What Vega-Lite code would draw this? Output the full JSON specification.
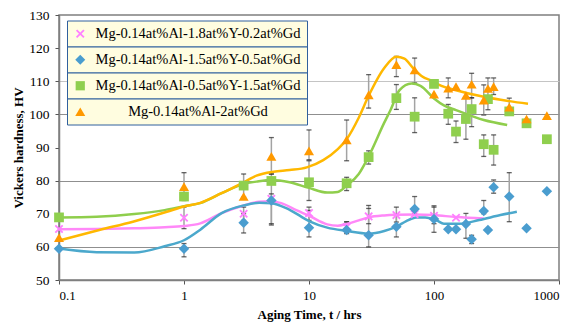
{
  "$schema": "https://vega.github.io/schema/vega-lite/v6.json",
  "autosize": {"type": "none"},
  "padding": {"left": 59, "top": 15, "right": 20, "bottom": 45},
  "width": 500,
  "height": 265,
  "background": "white",
  "config": {
    "view": {"stroke": "#7f7f7f", "strokeWidth": 1.5},
    "font": "Liberation Serif",
    "axis": {
      "labelFont": "Liberation Serif",
      "titleFont": "Liberation Serif",
      "labelColor": "#000",
      "titleColor": "#000",
      "domainColor": "#7f7f7f",
      "domainWidth": 1.5,
      "tickColor": "#555",
      "tickSize": 4
    },
    "legend": {
      "orient": "none",
      "title": null,
      "fillColor": "#fffde0",
      "strokeColor": "#30609e",
      "padding": 6,
      "labelFont": "Liberation Serif",
      "labelFontSize": 14.5,
      "labelColor": "#000",
      "labelOffset": 8,
      "labelLimit": 400,
      "symbolStrokeWidth": 0
    }
  },
  "datasets": {
    "pts": [
      {"s": "Mg-0.14at%Al-1.8at%Y-0.2at%Gd", "t": 0.1, "hv": 65.4},
      {"s": "Mg-0.14at%Al-1.8at%Y-0.2at%Gd", "t": 1, "hv": 68.8, "lo": 65.5, "hi": 72},
      {"s": "Mg-0.14at%Al-1.8at%Y-0.2at%Gd", "t": 3, "hv": 70, "lo": 68, "hi": 72},
      {"s": "Mg-0.14at%Al-1.8at%Y-0.2at%Gd", "t": 5, "hv": 74.5, "lo": 67, "hi": 76},
      {"s": "Mg-0.14at%Al-1.8at%Y-0.2at%Gd", "t": 10, "hv": 70.2, "lo": 68, "hi": 72},
      {"s": "Mg-0.14at%Al-1.8at%Y-0.2at%Gd", "t": 20, "hv": 66, "lo": 64.5, "hi": 67.5},
      {"s": "Mg-0.14at%Al-1.8at%Y-0.2at%Gd", "t": 30, "hv": 69.2, "lo": 67, "hi": 72.5},
      {"s": "Mg-0.14at%Al-1.8at%Y-0.2at%Gd", "t": 50, "hv": 69.6, "lo": 67.5, "hi": 72},
      {"s": "Mg-0.14at%Al-1.8at%Y-0.2at%Gd", "t": 70, "hv": 69.9},
      {"s": "Mg-0.14at%Al-1.8at%Y-0.2at%Gd", "t": 100, "hv": 69.4, "lo": 67, "hi": 72},
      {"s": "Mg-0.14at%Al-1.8at%Y-0.2at%Gd", "t": 150, "hv": 68.8},
      {"s": "Mg-0.14at%Al-1.5at%Y-0.5at%Gd", "t": 0.1, "hv": 59.4},
      {"s": "Mg-0.14at%Al-1.5at%Y-0.5at%Gd", "t": 1, "hv": 59.4, "lo": 57, "hi": 61},
      {"s": "Mg-0.14at%Al-1.5at%Y-0.5at%Gd", "t": 3, "hv": 67.3, "lo": 64.2, "hi": 70},
      {"s": "Mg-0.14at%Al-1.5at%Y-0.5at%Gd", "t": 5, "hv": 74},
      {"s": "Mg-0.14at%Al-1.5at%Y-0.5at%Gd", "t": 10, "hv": 65.8, "lo": 63, "hi": 71},
      {"s": "Mg-0.14at%Al-1.5at%Y-0.5at%Gd", "t": 20, "hv": 65.1, "lo": 64, "hi": 67.6},
      {"s": "Mg-0.14at%Al-1.5at%Y-0.5at%Gd", "t": 30, "hv": 63.5, "lo": 60, "hi": 71.6},
      {"s": "Mg-0.14at%Al-1.5at%Y-0.5at%Gd", "t": 50, "hv": 66.1, "lo": 63, "hi": 70},
      {"s": "Mg-0.14at%Al-1.5at%Y-0.5at%Gd", "t": 70, "hv": 71.4, "lo": 70, "hi": 75.2},
      {"s": "Mg-0.14at%Al-1.5at%Y-0.5at%Gd", "t": 100, "hv": 68.4, "lo": 64.4, "hi": 72.4},
      {"s": "Mg-0.14at%Al-1.5at%Y-0.5at%Gd", "t": 130, "hv": 65.3},
      {"s": "Mg-0.14at%Al-1.5at%Y-0.5at%Gd", "t": 150, "hv": 65.3},
      {"s": "Mg-0.14at%Al-1.5at%Y-0.5at%Gd", "t": 180, "hv": 66.9, "lo": 62.6, "hi": 70.1},
      {"s": "Mg-0.14at%Al-1.5at%Y-0.5at%Gd", "t": 200, "hv": 62.3, "lo": 61, "hi": 63.5},
      {"s": "Mg-0.14at%Al-1.5at%Y-0.5at%Gd", "t": 250, "hv": 70.8, "lo": 70, "hi": 74},
      {"s": "Mg-0.14at%Al-1.5at%Y-0.5at%Gd", "t": 270, "hv": 65.1},
      {"s": "Mg-0.14at%Al-1.5at%Y-0.5at%Gd", "t": 300, "hv": 78, "lo": 76.2, "hi": 80.2},
      {"s": "Mg-0.14at%Al-1.5at%Y-0.5at%Gd", "t": 400, "hv": 75.2, "lo": 67.6, "hi": 82.4},
      {"s": "Mg-0.14at%Al-1.5at%Y-0.5at%Gd", "t": 550, "hv": 65.6},
      {"s": "Mg-0.14at%Al-1.5at%Y-0.5at%Gd", "t": 800, "hv": 76.8},
      {"s": "Mg-0.14at%Al-0.5at%Y-1.5at%Gd", "t": 0.1, "hv": 68.9},
      {"s": "Mg-0.14at%Al-0.5at%Y-1.5at%Gd", "t": 1, "hv": 75.2},
      {"s": "Mg-0.14at%Al-0.5at%Y-1.5at%Gd", "t": 3, "hv": 78.5, "lo": 75, "hi": 82},
      {"s": "Mg-0.14at%Al-0.5at%Y-1.5at%Gd", "t": 5, "hv": 79.9, "lo": 66.6, "hi": 82},
      {"s": "Mg-0.14at%Al-0.5at%Y-1.5at%Gd", "t": 10, "hv": 79.5, "lo": 74, "hi": 86},
      {"s": "Mg-0.14at%Al-0.5at%Y-1.5at%Gd", "t": 20, "hv": 79.2, "lo": 77, "hi": 81},
      {"s": "Mg-0.14at%Al-0.5at%Y-1.5at%Gd", "t": 30, "hv": 87.1, "lo": 85, "hi": 89},
      {"s": "Mg-0.14at%Al-0.5at%Y-1.5at%Gd", "t": 50, "hv": 104.9, "lo": 101.5, "hi": 109},
      {"s": "Mg-0.14at%Al-0.5at%Y-1.5at%Gd", "t": 70, "hv": 99.3, "lo": 94.5, "hi": 105},
      {"s": "Mg-0.14at%Al-0.5at%Y-1.5at%Gd", "t": 100, "hv": 109.2},
      {"s": "Mg-0.14at%Al-0.5at%Y-1.5at%Gd", "t": 130, "hv": 100.2, "lo": 97, "hi": 103},
      {"s": "Mg-0.14at%Al-0.5at%Y-1.5at%Gd", "t": 150, "hv": 94.8, "lo": 91.5, "hi": 98},
      {"s": "Mg-0.14at%Al-0.5at%Y-1.5at%Gd", "t": 180, "hv": 98.6, "lo": 92.5, "hi": 105},
      {"s": "Mg-0.14at%Al-0.5at%Y-1.5at%Gd", "t": 200, "hv": 101.6, "lo": 96.3, "hi": 105},
      {"s": "Mg-0.14at%Al-0.5at%Y-1.5at%Gd", "t": 250, "hv": 91, "lo": 87.3, "hi": 93.8},
      {"s": "Mg-0.14at%Al-0.5at%Y-1.5at%Gd", "t": 270, "hv": 104.6},
      {"s": "Mg-0.14at%Al-0.5at%Y-1.5at%Gd", "t": 300, "hv": 89.3, "lo": 84.7, "hi": 93.8},
      {"s": "Mg-0.14at%Al-0.5at%Y-1.5at%Gd", "t": 400, "hv": 100.9},
      {"s": "Mg-0.14at%Al-0.5at%Y-1.5at%Gd", "t": 550, "hv": 97.3},
      {"s": "Mg-0.14at%Al-0.5at%Y-1.5at%Gd", "t": 800, "hv": 92.5},
      {"s": "Mg-0.14at%Al-2at%Gd", "t": 0.1, "hv": 62.8},
      {"s": "Mg-0.14at%Al-2at%Gd", "t": 1, "hv": 78.2, "lo": 74, "hi": 82.4},
      {"s": "Mg-0.14at%Al-2at%Gd", "t": 3, "hv": 75.2},
      {"s": "Mg-0.14at%Al-2at%Gd", "t": 5, "hv": 87.3, "lo": 82, "hi": 93},
      {"s": "Mg-0.14at%Al-2at%Gd", "t": 10, "hv": 89, "lo": 86.3, "hi": 95.3},
      {"s": "Mg-0.14at%Al-2at%Gd", "t": 20, "hv": 92.3, "lo": 86, "hi": 98.3},
      {"s": "Mg-0.14at%Al-2at%Gd", "t": 30, "hv": 105.9, "lo": 101.9, "hi": 112},
      {"s": "Mg-0.14at%Al-2at%Gd", "t": 50, "hv": 115, "lo": 111.4, "hi": 117.5},
      {"s": "Mg-0.14at%Al-2at%Gd", "t": 70, "hv": 113.4, "lo": 109.5, "hi": 117},
      {"s": "Mg-0.14at%Al-2at%Gd", "t": 100, "hv": 106.1},
      {"s": "Mg-0.14at%Al-2at%Gd", "t": 130, "hv": 107.9, "lo": 105, "hi": 111},
      {"s": "Mg-0.14at%Al-2at%Gd", "t": 150, "hv": 108.4},
      {"s": "Mg-0.14at%Al-2at%Gd", "t": 180, "hv": 105.7},
      {"s": "Mg-0.14at%Al-2at%Gd", "t": 200, "hv": 109.1, "lo": 105, "hi": 112.4},
      {"s": "Mg-0.14at%Al-2at%Gd", "t": 250, "hv": 104.3, "lo": 99.8, "hi": 108.9},
      {"s": "Mg-0.14at%Al-2at%Gd", "t": 270, "hv": 107.8, "lo": 101.4, "hi": 111},
      {"s": "Mg-0.14at%Al-2at%Gd", "t": 300, "hv": 108.4, "lo": 106, "hi": 111},
      {"s": "Mg-0.14at%Al-2at%Gd", "t": 400, "hv": 102.2, "lo": 99.8, "hi": 104.9},
      {"s": "Mg-0.14at%Al-2at%Gd", "t": 550, "hv": 98.6},
      {"s": "Mg-0.14at%Al-2at%Gd", "t": 800, "hv": 99.6}
    ],
    "curves": [
      {"s": "P", "t": 0.1, "hv": 65.3}, {"s": "P", "t": 0.2, "hv": 65.4}, {"s": "P", "t": 0.4, "hv": 65.6},
      {"s": "P", "t": 0.7, "hv": 65.9}, {"s": "P", "t": 1, "hv": 66.3}, {"s": "P", "t": 1.35, "hv": 67.1},
      {"s": "P", "t": 2, "hv": 70.2}, {"s": "P", "t": 3, "hv": 72.5}, {"s": "P", "t": 4, "hv": 73.6},
      {"s": "P", "t": 5, "hv": 73.8}, {"s": "P", "t": 6, "hv": 73.2}, {"s": "P", "t": 8, "hv": 71},
      {"s": "P", "t": 10, "hv": 69.4}, {"s": "P", "t": 14, "hv": 66.8}, {"s": "P", "t": 17, "hv": 66.4},
      {"s": "P", "t": 20, "hv": 66.9}, {"s": "P", "t": 25, "hv": 68}, {"s": "P", "t": 30, "hv": 68.9},
      {"s": "P", "t": 40, "hv": 69.5}, {"s": "P", "t": 50, "hv": 69.7}, {"s": "P", "t": 70, "hv": 69.8},
      {"s": "P", "t": 100, "hv": 69.6}, {"s": "P", "t": 150, "hv": 69}, {"s": "P", "t": 250, "hv": 68.6},
      {"s": "B", "t": 0.1, "hv": 59.5}, {"s": "B", "t": 0.2, "hv": 58.4}, {"s": "B", "t": 0.4, "hv": 58.3},
      {"s": "B", "t": 0.7, "hv": 60.2}, {"s": "B", "t": 1, "hv": 62}, {"s": "B", "t": 1.35, "hv": 65.2},
      {"s": "B", "t": 2, "hv": 70.2}, {"s": "B", "t": 3, "hv": 72.5}, {"s": "B", "t": 4, "hv": 73.3},
      {"s": "B", "t": 5, "hv": 73.2}, {"s": "B", "t": 7, "hv": 71.2}, {"s": "B", "t": 10, "hv": 67.8},
      {"s": "B", "t": 14, "hv": 65.8}, {"s": "B", "t": 20, "hv": 64.8}, {"s": "B", "t": 30, "hv": 64},
      {"s": "B", "t": 40, "hv": 64.8}, {"s": "B", "t": 50, "hv": 66.1}, {"s": "B", "t": 60, "hv": 67.8},
      {"s": "B", "t": 72, "hv": 68.9}, {"s": "B", "t": 85, "hv": 68.9}, {"s": "B", "t": 105, "hv": 68},
      {"s": "B", "t": 120, "hv": 67}, {"s": "B", "t": 160, "hv": 67}, {"s": "B", "t": 230, "hv": 68.1},
      {"s": "B", "t": 340, "hv": 69.6}, {"s": "B", "t": 460, "hv": 70.6},
      {"s": "G", "t": 0.1, "hv": 68.9}, {"s": "G", "t": 0.2, "hv": 69.1}, {"s": "G", "t": 0.4, "hv": 69.9},
      {"s": "G", "t": 0.7, "hv": 71.1}, {"s": "G", "t": 1, "hv": 72.3}, {"s": "G", "t": 1.35, "hv": 73.2},
      {"s": "G", "t": 2, "hv": 76.2}, {"s": "G", "t": 3, "hv": 79}, {"s": "G", "t": 3.8, "hv": 79.7},
      {"s": "G", "t": 5, "hv": 80.2}, {"s": "G", "t": 7, "hv": 79.5}, {"s": "G", "t": 10, "hv": 77.8},
      {"s": "G", "t": 14, "hv": 76.4}, {"s": "G", "t": 17, "hv": 76.6}, {"s": "G", "t": 20, "hv": 78.5},
      {"s": "G", "t": 25, "hv": 82}, {"s": "G", "t": 30, "hv": 87.3}, {"s": "G", "t": 40, "hv": 97.5},
      {"s": "G", "t": 45, "hv": 101.4}, {"s": "G", "t": 53, "hv": 107.3}, {"s": "G", "t": 66, "hv": 109.3},
      {"s": "G", "t": 78, "hv": 108.6}, {"s": "G", "t": 100, "hv": 104.8}, {"s": "G", "t": 120, "hv": 102.7},
      {"s": "G", "t": 150, "hv": 101.3}, {"s": "G", "t": 250, "hv": 98.3}, {"s": "G", "t": 385, "hv": 96.8},
      {"s": "O", "t": 0.1, "hv": 61.9}, {"s": "O", "t": 0.21, "hv": 65.1}, {"s": "O", "t": 0.39, "hv": 67.6},
      {"s": "O", "t": 0.73, "hv": 70.6}, {"s": "O", "t": 1, "hv": 72.2}, {"s": "O", "t": 1.35, "hv": 73.3},
      {"s": "O", "t": 2, "hv": 76.2}, {"s": "O", "t": 3, "hv": 79.5}, {"s": "O", "t": 3.8, "hv": 81.5},
      {"s": "O", "t": 5.2, "hv": 82.7}, {"s": "O", "t": 7, "hv": 83.2}, {"s": "O", "t": 9.6, "hv": 84},
      {"s": "O", "t": 13, "hv": 86.2}, {"s": "O", "t": 17, "hv": 89.5}, {"s": "O", "t": 20, "hv": 92.5},
      {"s": "O", "t": 25, "hv": 99}, {"s": "O", "t": 30, "hv": 105.6}, {"s": "O", "t": 40, "hv": 114},
      {"s": "O", "t": 50, "hv": 117.4}, {"s": "O", "t": 58, "hv": 116.8}, {"s": "O", "t": 68, "hv": 114},
      {"s": "O", "t": 80, "hv": 111.5}, {"s": "O", "t": 98, "hv": 110}, {"s": "O", "t": 110, "hv": 108.9},
      {"s": "O", "t": 150, "hv": 107.3}, {"s": "O", "t": 250, "hv": 105.3}, {"s": "O", "t": 400, "hv": 104},
      {"s": "O", "t": 565, "hv": 103.2}
    ]
  },
  "encoding": {
    "x": {
      "field": "t", "type": "quantitative",
      "scale": {"type": "log", "domain": [0.1, 1000]},
      "axis": {
        "title": "Aging Time, t / hrs",
        "values": [0.1, 1, 10, 100, 1000],
        "format": "~g",
        "grid": false,
        "labelFontSize": 13,
        "labelPadding": 5,
        "titleFontSize": 13,
        "titleFontWeight": "bold",
        "titlePadding": 6
      }
    },
    "y": {
      "field": "hv", "type": "quantitative",
      "scale": {"domain": [50, 130], "nice": false, "zero": false},
      "axis": {
        "title": "Vickers hardness, HV",
        "values": [50, 60, 70, 80, 90, 100, 110, 120, 130],
        "grid": true,
        "gridColor": {"condition": {"test": "datum.value == 110", "value": "#c4c4c4"}, "value": "#8f8f8f"},
        "gridOpacity": {"condition": {"test": "datum.value == 60 || datum.value == 80 || datum.value == 100 || datum.value == 110", "value": 1}, "value": 0},
        "gridWidth": 1.2,
        "labelFontSize": 13.5,
        "labelPadding": 6,
        "titleFontSize": 13,
        "titleFontWeight": "bold",
        "titlePadding": 3
      }
    }
  },
  "layer": [
    {
      "data": {"name": "pts"},
      "transform": [{"filter": "isValid(datum.lo)"}],
      "mark": {"type": "rule", "color": "#a3a3a3", "strokeWidth": 1.5},
      "encoding": {
        "y": {"field": "lo", "type": "quantitative", "title": "Vickers hardness, HV"},
        "y2": {"field": "hi"}
      }
    },
    {
      "data": {"name": "pts"},
      "transform": [{"filter": "isValid(datum.lo)"}],
      "mark": {"type": "tick", "orient": "horizontal", "color": "#222", "size": 5, "thickness": 1.3},
      "encoding": {
        "y": {"field": "lo", "type": "quantitative", "title": "Vickers hardness, HV"}
      }
    },
    {
      "data": {"name": "pts"},
      "transform": [{"filter": "isValid(datum.hi)"}],
      "mark": {"type": "tick", "orient": "horizontal", "color": "#222", "size": 5, "thickness": 1.3},
      "encoding": {
        "y": {"field": "hi", "type": "quantitative", "title": "Vickers hardness, HV"}
      }
    },
    {
      "data": {"name": "curves"},
      "transform": [{"filter": "datum.s == 'P'"}],
      "mark": {"type": "line", "color": "#ff88f8", "strokeWidth": 2.5, "interpolate": "monotone"}
    },
    {
      "data": {"name": "curves"},
      "transform": [{"filter": "datum.s == 'B'"}],
      "mark": {"type": "line", "color": "#4ba8cc", "strokeWidth": 2.5, "interpolate": "monotone"}
    },
    {
      "data": {"name": "curves"},
      "transform": [{"filter": "datum.s == 'G'"}],
      "mark": {"type": "line", "color": "#8fce4c", "strokeWidth": 2.5, "interpolate": "monotone"}
    },
    {
      "data": {"name": "curves"},
      "transform": [{"filter": "datum.s == 'O'"}],
      "mark": {"type": "line", "color": "#ffb800", "strokeWidth": 2.5, "interpolate": "monotone"}
    },
    {
      "data": {"name": "pts"},
      "transform": [{"filter": "datum.s == 'Mg-0.14at%Al-1.8at%Y-0.2at%Gd'"}],
      "mark": {"type": "point", "filled": true, "opacity": 1, "size": 75},
      "encoding": {
        "color": {
          "field": "s", "type": "nominal",
          "scale": {"domain": ["Mg-0.14at%Al-1.8at%Y-0.2at%Gd"], "range": ["#ff80ff"]},
          "legend": {"legendX": 8, "legendY": 5.5, "symbolSize": 75, "symbolType": "M-1,-0.7L-0.7,-1L0,-0.3L0.7,-1L1,-0.7L0.3,0L1,0.7L0.7,1L0,0.3L-0.7,1L-1,0.7L-0.3,0Z"}
        },
        "shape": {
          "field": "s", "type": "nominal",
          "scale": {"domain": ["Mg-0.14at%Al-1.8at%Y-0.2at%Gd"], "range": ["M-1,-0.7L-0.7,-1L0,-0.3L0.7,-1L1,-0.7L0.3,0L1,0.7L0.7,1L0,0.3L-0.7,1L-1,0.7L-0.3,0Z"]},
          "legend": null
        }
      }
    },
    {
      "data": {"name": "pts"},
      "transform": [{"filter": "datum.s == 'Mg-0.14at%Al-1.5at%Y-0.5at%Gd'"}],
      "mark": {"type": "point", "filled": true, "opacity": 1, "size": 110, "shape": "diamond"},
      "encoding": {
        "color": {
          "field": "s", "type": "nominal",
          "scale": {"domain": ["Mg-0.14at%Al-1.5at%Y-0.5at%Gd"], "range": ["#4a9dcf"]},
          "legend": {"legendX": 8, "legendY": 31.5, "symbolSize": 100, "symbolType": "diamond"}
        }
      }
    },
    {
      "data": {"name": "pts"},
      "transform": [{"filter": "datum.s == 'Mg-0.14at%Al-0.5at%Y-1.5at%Gd'"}],
      "mark": {"type": "point", "filled": true, "opacity": 1, "size": 95, "shape": "square"},
      "encoding": {
        "color": {
          "field": "s", "type": "nominal",
          "scale": {"domain": ["Mg-0.14at%Al-0.5at%Y-1.5at%Gd"], "range": ["#8fcf4e"]},
          "legend": {"legendX": 8, "legendY": 57.5, "symbolSize": 85, "symbolType": "square"}
        }
      }
    },
    {
      "data": {"name": "pts"},
      "transform": [{"filter": "datum.s == 'Mg-0.14at%Al-2at%Gd'"}],
      "mark": {"type": "point", "filled": true, "opacity": 1, "size": 100, "shape": "triangle-up"},
      "encoding": {
        "color": {
          "field": "s", "type": "nominal",
          "scale": {"domain": ["Mg-0.14at%Al-2at%Gd"], "range": ["#ff9900"]},
          "legend": {"legendX": 8, "legendY": 83.5, "symbolSize": 100, "symbolType": "triangle-up", "labelExpr": "'\u200b\u00a0\u00a0\u00a0\u00a0\u00a0\u00a0\u00a0\u00a0\u00a0' + datum.label + '\u00a0\u00a0\u00a0\u00a0\u00a0\u00a0\u00a0\u00a0\u00a0\u200b'"}
        }
      }
    }
  ],
  "resolve": {
    "scale": {"color": "independent", "shape": "independent"},
    "legend": {"color": "independent", "shape": "independent"}
  }
}
